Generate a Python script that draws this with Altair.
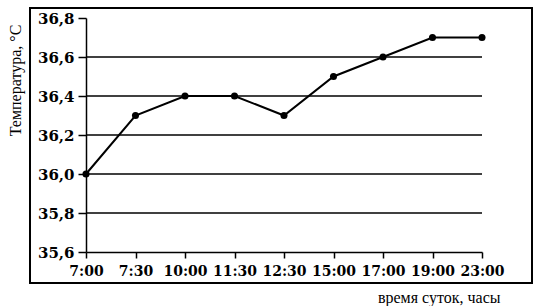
import altair as alt
import pandas as pd

times = ["7:00", "7:30", "10:00", "11:30", "12:30", "15:00", "17:00", "19:00", "23:00"]
temps = [36.0, 36.3, 36.4, 36.4, 36.3, 36.5, 36.6, 36.7, 36.7]
grid_values = [35.8, 36.0, 36.2, 36.4, 36.6]
y_ticks = [35.6, 35.8, 36.0, 36.2, 36.4, 36.6, 36.8]

df = pd.DataFrame({"time": times, "temp": temps})
grid_df = pd.DataFrame({"temp": grid_values})

W, H = 396, 234
serif = "DejaVu Serif"
label_expr = "replace(format(datum.value, '.1f'), '.', ',')"

x_enc = alt.X(
    "time:O",
    sort=times,
    scale=alt.Scale(type="point", padding=0, domain=times),
    axis=alt.Axis(
        title="время суток, часы",
        titleFont="Liberation Serif", titleFontSize=16, titleFontWeight="normal",
        titleColor="black", titleAlign="right", titleBaseline="middle",
        titleX=414, titleY=45, titleAngle=0,
        labelFont=serif, labelFontSize=14, labelFontWeight="bold", labelColor="black",
        labelAngle=0, labelPadding=6,
        domain=True, domainColor="black", domainWidth=1.5,
        tickColor="black", tickWidth=1.5, tickSize=6,
        grid=False,
    ),
)
y_enc = alt.Y(
    "temp:Q",
    scale=alt.Scale(domain=[35.6, 36.8], nice=False, zero=False),
    axis=alt.Axis(
        values=y_ticks,
        labelExpr=label_expr,
        title="Температура, °С",
        titleFont="Liberation Serif", titleFontSize=16, titleFontWeight="normal",
        titleColor="black", titleAngle=270, titleAlign="center", titleBaseline="middle",
        titleX=-71, titleY=62,
        labelFont=serif, labelFontSize=15, labelFontWeight="bold", labelColor="black",
        labelPadding=4,
        domain=True, domainColor="black", domainWidth=1.5,
        tickColor="black", tickWidth=1.5, tickSize=8,
        grid=False,
    ),
)

line = alt.Chart(df).mark_line(color="black", strokeWidth=2).encode(x=x_enc, y=y_enc)
points = alt.Chart(df).mark_circle(color="black", opacity=1, size=50).encode(x=x_enc, y=y_enc)

grid = alt.Chart(grid_df).mark_rule(color="black", strokeWidth=1.5).encode(
    y=y_enc,
    x=alt.value(0), x2=alt.value(W),
)

frame = alt.Chart(grid_df).mark_rect(
    fill=None, fillOpacity=0, stroke="black", strokeWidth=1.5
).encode(
    x=alt.value(-56), x2=alt.value(446), y=alt.value(-10), y2=alt.value(265)
)

chart = alt.layer(line, grid, points, frame).properties(
    width=W, height=H,
    autosize=alt.AutoSizeParams(type="none"),
    padding={"left": 86, "top": 18, "right": 58, "bottom": 54},
    background="white",
).configure_view(stroke=None)

chart.save("out.html", embed_options={"renderer": "svg", "actions": False})
